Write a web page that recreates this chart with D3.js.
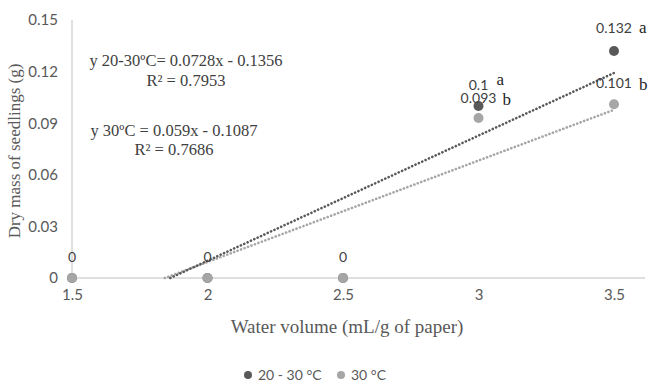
<!DOCTYPE html>
<html><head><meta charset="utf-8">
<script src="https://cdn.jsdelivr.net/npm/d3@7"></script>
<style>body{margin:0;background:#fff}svg{display:block}</style>
</head><body>
<svg id="c" width="661" height="392"></svg>
<script>
const xValues = [1.5, 2, 2.5, 3, 3.5];
const seriesNames = ["20 - 30 °C", "30 °C"];
const values2030 = [0, 0, 0, 0.1, 0.132];
const values30 = [0, 0, 0, 0.093, 0.101];
const letters2030 = ["", "", "", "a", "a"];
const letters30 = ["", "", "", "b", "b"];
const yTicks = [0, 0.03, 0.06, 0.09, 0.12, 0.15];
const xTicks = [1.5, 2, 2.5, 3, 3.5];
const trend2030 = {slope: 0.0728, intercept: -0.1356, label: "y 20-30ºC= 0.0728x - 0.1356", r2: "R² = 0.7953"};
const trend30 = {slope: 0.059, intercept: -0.1087, label: "y 30ºC = 0.059x - 0.1087", r2: "R² = 0.7686"};
const colors = ["#595959", "#a6a6a6"];

const svg = d3.select("#c");
const x = d3.scaleLinear().domain([1.5, 3.5]).range([72, 614]);
const y = d3.scaleLinear().domain([0, 0.15]).range([278, 20]);
const sans = "Lato, 'Open Sans', sans-serif";
const serif = "'Liberation Serif', 'Times New Roman', serif";

// axes
svg.append("line").attr("x1", x(1.5)).attr("x2", x(1.5)).attr("y1", y(0.15)).attr("y2", y(0)).attr("stroke", "#bfbfbf");
svg.append("line").attr("x1", x(1.5)).attr("x2", 645).attr("y1", y(0)).attr("y2", y(0)).attr("stroke", "#bfbfbf");

const yAxis = d3.axisLeft(y).tickValues(yTicks).tickSize(0).tickPadding(0).tickFormat(d => d === 0 ? "0" : d3.format(".2f")(d));
const gy = svg.append("g").attr("transform", "translate(58,0)").call(yAxis);
gy.select(".domain").remove();
gy.selectAll("text").attr("font-family", sans).attr("font-size", 15).attr("fill", "#595959");

const xAxis = d3.axisBottom(x).tickValues(xTicks).tickSize(0).tickPadding(0).tickFormat(d => String(d));
const gx = svg.append("g").attr("transform", "translate(0,289)").call(xAxis);
gx.select(".domain").remove();
gx.selectAll("text").attr("font-family", sans).attr("font-size", 15).attr("fill", "#595959");

// titles
svg.append("text").attr("transform", "translate(20,151) rotate(-90)").attr("text-anchor", "middle")
  .attr("font-family", serif).attr("font-size", 17).attr("fill", "#595959").text("Dry mass of seedlings (g)");
svg.append("text").attr("x", 347).attr("y", 333).attr("text-anchor", "middle")
  .attr("font-family", serif).attr("font-size", 19).attr("fill", "#595959").text("Water volume (mL/g of paper)");

// trendlines
function trend(t, color) {
  const x0 = -t.intercept / t.slope;
  svg.append("line")
    .attr("x1", x(x0)).attr("y1", y(0))
    .attr("x2", x(3.5)).attr("y2", y(t.slope * 3.5 + t.intercept))
    .attr("stroke", color).attr("stroke-width", 2.6).attr("stroke-linecap", "round")
    .attr("stroke-dasharray", "0.1,3.6");
}
trend(trend30, colors[1]);
trend(trend2030, colors[0]);

// points (30 °C drawn on top)
const series = [values2030, values30];
[0, 1].forEach(i => {
  svg.selectAll(null).data(xValues).enter().append("circle")
    .attr("cx", d => x(d)).attr("cy", (d, j) => y(series[i][j])).attr("r", 5).attr("fill", colors[i]);
});

// data labels
const lab = svg.append("g").attr("font-family", sans).attr("font-size", 14).attr("fill", "#404040");
xValues.forEach((d, j) => {
  if (values2030[j] === 0) {
    lab.append("text").attr("x", x(d)).attr("y", y(0) - 16).attr("text-anchor", "middle").text("0");
  }
});
lab.append("text").attr("x", x(3)).attr("y", y(values2030[3]) - 16).attr("text-anchor", "middle").text(String(values2030[3]));
lab.append("text").attr("x", x(3.5)).attr("y", y(values2030[4]) - 18).attr("text-anchor", "middle").text(String(values2030[4]));
lab.append("text").attr("x", x(3)).attr("y", y(values30[3]) - 15).attr("text-anchor", "middle").text(String(values30[3]));
lab.append("text").attr("x", x(3.5)).attr("y", y(values30[4]) - 16).attr("text-anchor", "middle").text(String(values30[4]));
const let_ = svg.append("g").attr("font-family", serif).attr("font-size", 17).attr("fill", "#262626");
let_.append("text").attr("x", x(3) + 18).attr("y", y(values2030[3]) - 21).text(letters2030[3]);
let_.append("text").attr("x", x(3) + 24).attr("y", y(values30[3]) - 13).text(letters30[3]);
let_.append("text").attr("x", x(3.5) + 25).attr("y", y(values2030[4]) - 18).text(letters2030[4]);
let_.append("text").attr("x", x(3.5) + 25).attr("y", y(values30[4]) - 14).text(letters30[4]);

// equations
const eq = svg.append("g").attr("font-family", serif).attr("font-size", 16.5).attr("fill", "#404040").attr("text-anchor", "middle");
eq.append("text").attr("x", 186).attr("y", 66).text(trend2030.label);
eq.append("text").attr("x", 186).attr("y", 86).text(trend2030.r2);
eq.append("text").attr("x", 174).attr("y", 136).text(trend30.label);
eq.append("text").attr("x", 174).attr("y", 155).text(trend30.r2);

// legend
const lg = svg.append("g").attr("font-family", sans).attr("font-size", 14).attr("fill", "#595959");
lg.append("circle").attr("cx", 248).attr("cy", 375).attr("r", 4).attr("fill", colors[0]);
lg.append("text").attr("x", 258).attr("y", 380).text(seriesNames[0]);
lg.append("circle").attr("cx", 341).attr("cy", 375).attr("r", 4).attr("fill", colors[1]);
lg.append("text").attr("x", 351).attr("y", 380).text(seriesNames[1]);
</script>
</body></html>
